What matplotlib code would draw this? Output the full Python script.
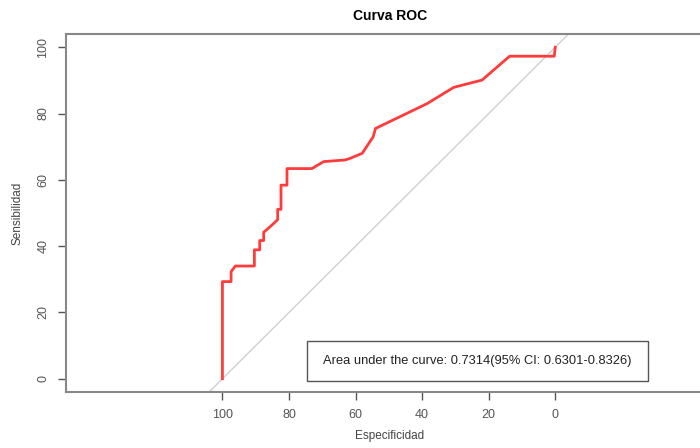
import matplotlib.pyplot as plt
from matplotlib.patches import Rectangle

# Datos de la curva ROC (especificidad, sensibilidad en %)
especificidad = [100, 100, 97.4, 97.4, 96.1, 90.4, 90.4, 88.8, 88.8, 87.6, 87.6,
                 85.5, 83.4, 83.4, 82.4, 82.4, 80.6, 80.6, 73.1, 69.6, 63.1,
                 61.6, 58.0, 54.7, 54.0, 38.5, 30.5, 22.0, 13.7, 0.3, 0.0]
sensibilidad = [0, 29.3, 29.3, 32.3, 34.0, 34.0, 38.9, 38.9, 41.7, 41.7, 44.2,
                46.0, 48.0, 51.1, 51.1, 58.4, 58.4, 63.4, 63.4, 65.5, 66.0,
                66.5, 68.0, 73.0, 75.5, 83.0, 87.9, 90.1, 97.3, 97.3, 100]
ticks = [100, 80, 60, 40, 20, 0]
texto_auc = "Area under the curve: 0.7314(95% CI: 0.6301-0.8326)"

plt.rcParams['font.family'] = ['Liberation Sans', 'DejaVu Sans']

fig = plt.figure(figsize=(7, 4.48), dpi=100)
ax = fig.add_axes([66 / 700, 56 / 448, (714 - 66) / 700, (392 - 34) / 448])

# diagonal de referencia
ax.axline((100, 0), (0, 100), color='#d0d0d0', lw=1)
ax.plot(especificidad, sensibilidad, color='#ff3b3b', lw=2)

ax.set_xlim(147, -47.7)
ax.set_ylim(-4, 104)
ax.set_xticks(ticks)
ax.set_yticks(ticks)
ax.tick_params(colors='#555555', labelsize=9, length=6, width=1, pad=6)
for lab in ax.get_yticklabels():
    lab.set_rotation(90)
    lab.set_va('center')

for s in ax.spines.values():
    s.set_color('#888888')
    s.set_linewidth(1.5)

ax.set_title("Curva ROC", fontsize=10, fontweight='bold', pad=10)
ax.set_xlabel("Especificidad", fontsize=8.5, color='#444444', labelpad=7)
ax.set_ylabel("Sensibilidad", fontsize=8.5, color='#444444', labelpad=10)

# caja de la leyenda con el AUC
ax.add_patch(Rectangle((0.372, 0.031), 0.526, 0.112, transform=ax.transAxes,
                       fc='white', ec='#555555', lw=1, zorder=3))
ax.text(0.635, 0.087, texto_auc, transform=ax.transAxes, ha='center', va='center',
        fontsize=9.3, color='#222222', zorder=4)

fig.savefig('out.png', dpi=100)
